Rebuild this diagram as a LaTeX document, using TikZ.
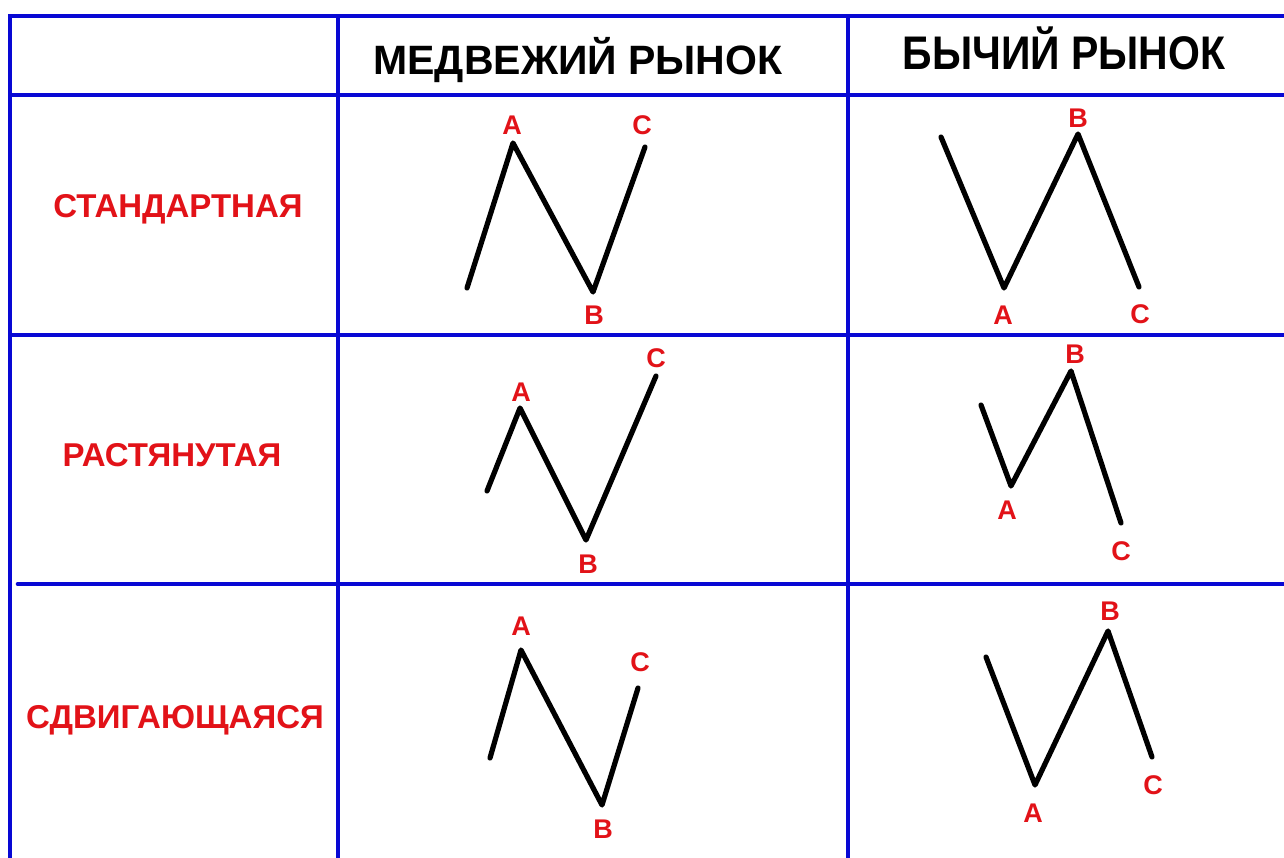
\documentclass[tikz,border=0pt]{standalone}
\usepackage{fontspec}
\setmainfont{Liberation Sans}
\definecolor{gridblue}{RGB}{8,8,212}
\definecolor{labred}{RGB}{226,18,24}
\tikzset{
  grid/.style={draw=gridblue, line width=4.6pt},
  wave/.style={draw=black, line width=5.2pt, line cap=round, line join=round},
  head/.style={font=\fontsize{41}{41}\selectfont\bfseries, text=black, inner sep=0pt, anchor=base},
  rowlab/.style={font=\fontsize{33}{33}\selectfont\bfseries, text=labred, inner sep=0pt, anchor=base},
  pt/.style={font=\fontsize{27}{27}\selectfont\bfseries, text=labred, inner sep=0pt},
}
\begin{document}
\begin{tikzpicture}[x=1pt,y=-1pt]
\useasboundingbox (0,0) rectangle (1284,858);
\fill[white] (0,0) rectangle (1284,858);
% grid
\coordinate (tl) at (10,16);
\coordinate (tr) at (1284,16);
\coordinate (bl) at (10,858);
\coordinate (v1t) at (338,16);
\coordinate (v1b) at (338,858);
\coordinate (v2t) at (848,16);
\coordinate (v2b) at (848,858);
\coordinate (h1l) at (10,95);
\coordinate (h1r) at (1284,95);
\coordinate (h2l) at (10,335);
\coordinate (h2r) at (1284,335);
\coordinate (h3l) at (18,584);
\coordinate (h3r) at (1284,584);
\draw[grid] (bl) -- (tl) -- (tr);
\draw[grid] (v1t) -- (v1b);
\draw[grid] (v2t) -- (v2b);
\draw[grid] (h1l) -- (h1r);
\draw[grid] (h2l) -- (h2r);
\draw[grid, line cap=round] (h3l) -- (h3r);
% headers
\node[head] (hbear) at (578,75) {МЕДВЕЖИЙ РЫНОК};
\node[head, font=\fontsize{41}{41}\selectfont\bfseries, yscale=1.15] (hbull) at (1064,70) {БЫЧИЙ РЫНОК};
% row labels
\node[rowlab] (r1) at (178,218) {СТАНДАРТНАЯ};
\node[rowlab] (r2) at (172,466) {РАСТЯНУТАЯ};
\node[rowlab] (r3) at (175,728) {СДВИГАЮЩАЯСЯ};
% chart 1: bear standard
\coordinate (s1) at (467,288);
\coordinate (a1) at (513,143);
\coordinate (b1) at (593,292);
\coordinate (c1) at (645,147);
\draw[wave] (s1) -- (a1) -- (b1) -- (c1);
\node[pt] (la1) at (512,125) {A};
\node[pt] (lb1) at (594,315) {B};
\node[pt] (lc1) at (642,125) {C};
% chart 2: bull standard
\coordinate (s2) at (941,137);
\coordinate (a2) at (1004,288);
\coordinate (b2) at (1078,134);
\coordinate (c2) at (1139,287);
\draw[wave] (s2) -- (a2) -- (b2) -- (c2);
\node[pt] (lb2) at (1078,118) {B};
\node[pt] (la2) at (1003,315) {A};
\node[pt] (lc2) at (1140,314) {C};
% chart 3: bear stretched
\coordinate (s3) at (487,491);
\coordinate (a3) at (520,408);
\coordinate (b3) at (586,540);
\coordinate (c3) at (656,376);
\draw[wave] (s3) -- (a3) -- (b3) -- (c3);
\node[pt] (la3) at (521,392) {A};
\node[pt] (lb3) at (588,564) {B};
\node[pt] (lc3) at (656,358) {C};
% chart 4: bull stretched
\coordinate (s4) at (981,405);
\coordinate (a4) at (1011,486);
\coordinate (b4) at (1071,371);
\coordinate (c4) at (1121,523);
\draw[wave] (s4) -- (a4) -- (b4) -- (c4);
\node[pt] (lb4) at (1075,354) {B};
\node[pt] (la4) at (1007,510) {A};
\node[pt] (lc4) at (1121,551) {C};
% chart 5: bear shifting
\coordinate (s5) at (490,758);
\coordinate (a5) at (521,650);
\coordinate (b5) at (602,805);
\coordinate (c5) at (638,688);
\draw[wave] (s5) -- (a5) -- (b5) -- (c5);
\node[pt] (la5) at (521,626) {A};
\node[pt] (lb5) at (603,829) {B};
\node[pt] (lc5) at (640,662) {C};
% chart 6: bull shifting
\coordinate (s6) at (986,657);
\coordinate (a6) at (1035,785);
\coordinate (b6) at (1108,631);
\coordinate (c6) at (1152,757);
\draw[wave] (s6) -- (a6) -- (b6) -- (c6);
\node[pt] (lb6) at (1110,611) {B};
\node[pt] (la6) at (1033,813) {A};
\node[pt] (lc6) at (1153,785) {C};
\end{tikzpicture}
\end{document}
